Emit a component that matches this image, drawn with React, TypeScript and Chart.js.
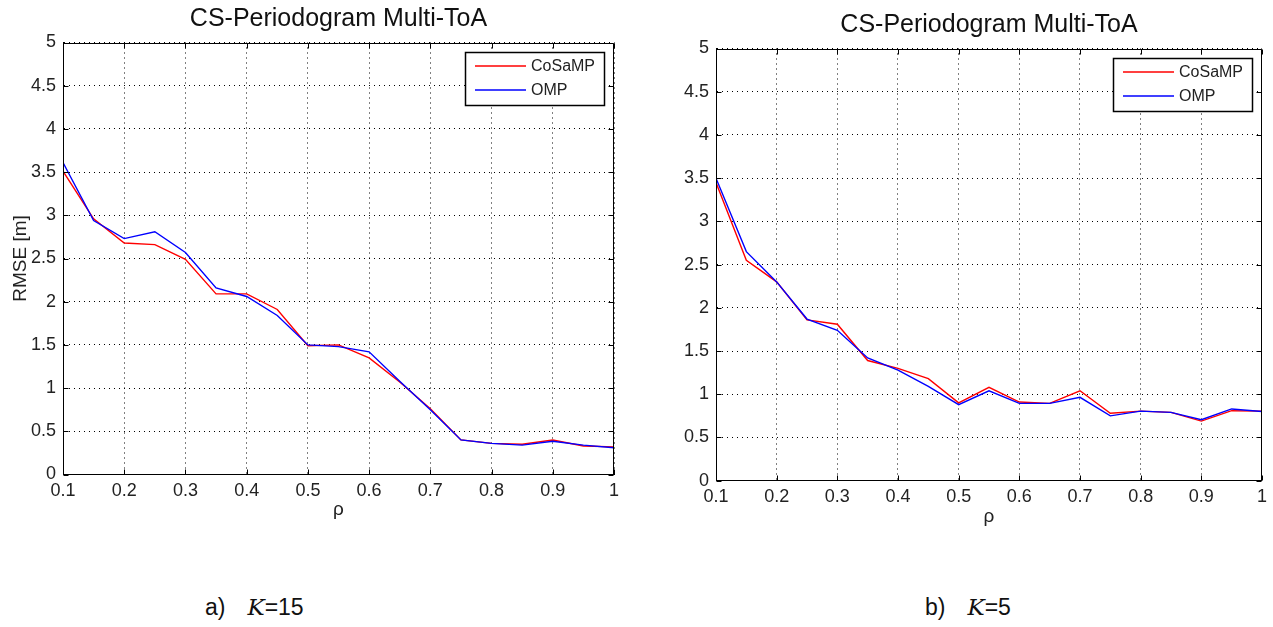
import React, { useEffect, useRef } from 'react';
import { Chart, registerables } from 'chart.js';

Chart.register(...registerables);

// ---------- data ----------
const rho = [0.1, 0.15, 0.2, 0.25, 0.3, 0.35, 0.4, 0.45, 0.5, 0.55, 0.6, 0.65, 0.7, 0.75, 0.8, 0.85, 0.9, 0.95, 1.0];

const cosampK15 = [3.51, 2.96, 2.68, 2.66, 2.49, 2.09, 2.09, 1.91, 1.49, 1.5, 1.35, 1.07, 0.76, 0.4, 0.36, 0.35, 0.4, 0.33, 0.32];
const ompK15 = [3.61, 2.94, 2.73, 2.81, 2.57, 2.16, 2.06, 1.84, 1.5, 1.48, 1.42, 1.08, 0.75, 0.4, 0.36, 0.34, 0.385, 0.34, 0.31];

const cosampK5 = [3.45, 2.55, 2.3, 1.86, 1.81, 1.39, 1.3, 1.18, 0.9, 1.08, 0.91, 0.895, 1.04, 0.78, 0.805, 0.79, 0.69, 0.81, 0.805];
const ompK5 = [3.5, 2.65, 2.3, 1.87, 1.74, 1.42, 1.28, 1.09, 0.88, 1.04, 0.895, 0.895, 0.965, 0.75, 0.805, 0.79, 0.705, 0.83, 0.8];

const xTickValues = [0.1, 0.2, 0.3, 0.4, 0.5, 0.6, 0.7, 0.8, 0.9, 1.0];
const xTickLabels = ['0.1', '0.2', '0.3', '0.4', '0.5', '0.6', '0.7', '0.8', '0.9', '1'];
const yTickValues = [0, 0.5, 1, 1.5, 2, 2.5, 3, 3.5, 4, 4.5, 5];
const yTickLabels = ['0', '0.5', '1', '1.5', '2', '2.5', '3', '3.5', '4', '4.5', '5'];

const seriesNames = ['CoSaMP', 'OMP'];
const seriesColors = ['#ff0000', '#0000ff'];

const chartTitle = 'CS-Periodogram Multi-ToA';
const xAxisTitle = 'ρ';
const yAxisTitle = 'RMSE [m]';

// ---------- styling ----------
const NARROW = "'Liberation Sans Narrow', 'Liberation Sans', Arial, sans-serif";
const SANS = "'Liberation Sans', Arial, sans-serif";

const framePlugin = {
  id: 'matlabFrame',
  afterDraw(chart: any) {
    const { ctx, chartArea } = chart;
    const { left, right, top, bottom } = chartArea;
    const xs = chart.scales.x;
    const ys = chart.scales.y;
    const L = 5;
    ctx.save();
    ctx.strokeStyle = '#000';
    ctx.lineWidth = 1;
    ctx.beginPath();
    const l = Math.round(left) + 0.5, r = Math.round(right) - 0.5;
    const t = Math.round(top) + 0.5, b = Math.round(bottom) - 0.5;
    ctx.rect(l, t, r - l, b - t);
    xs.ticks.forEach((tk: any) => {
      const px = Math.round(xs.getPixelForValue(tk.value)) + 0.5;
      ctx.moveTo(px, b); ctx.lineTo(px, b - L);
      ctx.moveTo(px, t); ctx.lineTo(px, t + L);
    });
    ys.ticks.forEach((tk: any) => {
      const py = Math.round(ys.getPixelForValue(tk.value)) + 0.5;
      ctx.moveTo(l, py); ctx.lineTo(l + L, py);
      ctx.moveTo(r, py); ctx.lineTo(r - L, py);
    });
    ctx.stroke();

    // legend box
    const opts = chart.options.plugins.boxLegend;
    const w = 139, h = 53;
    const x = Math.round(right) - 10 - w;
    const y = Math.round(top) + 9;
    ctx.fillStyle = '#fff';
    ctx.fillRect(x, y, w, h);
    ctx.strokeStyle = '#000';
    ctx.lineWidth = 1.5;
    ctx.strokeRect(x + 0.5, y + 0.5, w, h);
    opts.names.forEach((name: string, i: number) => {
      const ry = y + 14 + i * 24;
      ctx.strokeStyle = opts.colors[i];
      ctx.lineWidth = 1.3;
      ctx.beginPath();
      ctx.moveTo(x + 10, ry);
      ctx.lineTo(x + 61, ry);
      ctx.stroke();
      ctx.fillStyle = '#222';
      ctx.font = `16px ${SANS}`;
      ctx.textBaseline = 'middle';
      ctx.textAlign = 'left';
      ctx.fillText(name, x + 66, ry + 1);
    });
    ctx.restore();
  },
};

type Panel = {
  cosamp: number[];
  omp: number[];
  width: number;
  height: number;
  yAxisWidth: number;
  padRight: number;
  padBottom: number;
  titleTop: number;
  titleBottom: number;
  showYTitle: boolean;
};

function ChartPanel({ p }: { p: Panel }) {
  const ref = useRef<HTMLCanvasElement>(null);
  useEffect(() => {
    if (!ref.current) return;
    const series = [p.cosamp, p.omp];
    const chart = new Chart(ref.current, {
      type: 'line',
      data: {
        datasets: series.map((vals, i) => ({
          label: seriesNames[i],
          data: rho.map((r, j) => ({ x: r, y: vals[j] })),
          borderColor: seriesColors[i],
          borderWidth: 1.4,
          pointRadius: 0,
          tension: 0,
          fill: false,
          order: i === 0 ? 2 : 1,
        })),
      },
      options: {
        responsive: false,
        animation: false,
        events: [],
        layout: { padding: { left: 0, right: p.padRight, top: 0, bottom: p.padBottom } },
        plugins: {
          legend: { display: false },
          tooltip: { enabled: false },
          title: {
            display: true,
            text: chartTitle,
            fullSize: false,
            color: '#111',
            font: { family: SANS, size: 25, weight: 'normal', lineHeight: 1.1 },
            padding: { top: p.titleTop, bottom: p.titleBottom },
          },
          boxLegend: { names: seriesNames, colors: seriesColors },
        } as any,
        scales: {
          x: {
            type: 'linear',
            min: 0.1,
            max: 1,
            afterBuildTicks: (s: any) => {
              s.ticks = xTickValues.map((v) => ({ value: v }));
            },
            afterFit: (s: any) => {
              s.height = 50;
            },
            ticks: {
              autoSkip: false,
              maxRotation: 0,
              padding: 6,
              color: '#222',
              font: { family: NARROW, size: 18 },
              callback: (v: any) => {
                const i = xTickValues.findIndex((t) => Math.abs(t - v) < 1e-9);
                return i >= 0 ? xTickLabels[i] : '';
              },
            },
            grid: { color: '#000', lineWidth: 1, drawTicks: false },
            border: { display: true, color: '#000', dash: [1, 4] },
            title: {
              display: true,
              text: xAxisTitle,
              color: '#222',
              font: { family: NARROW, size: 19 },
              padding: { top: 0, bottom: 3 },
            },
          },
          y: {
            type: 'linear',
            min: 0,
            max: 5,
            afterBuildTicks: (s: any) => {
              s.ticks = yTickValues.map((v) => ({ value: v }));
            },
            afterFit: (s: any) => {
              s.width = p.yAxisWidth;
            },
            ticks: {
              autoSkip: false,
              padding: 7,
              color: '#222',
              font: { family: NARROW, size: 18 },
              callback: (v: any) => {
                const i = yTickValues.findIndex((t) => Math.abs(t - v) < 1e-9);
                return i >= 0 ? yTickLabels[i] : '';
              },
            },
            grid: { color: '#000', lineWidth: 1, drawTicks: false },
            border: { display: true, color: '#000', dash: [1, 4] },
            title: {
              display: p.showYTitle,
              text: yAxisTitle,
              color: '#222',
              font: { family: NARROW, size: 19 },
              padding: { top: 9, bottom: 0 },
            },
          },
        },
      },
      plugins: [framePlugin],
    });
    return () => chart.destroy();
  }, [p]);
  return <canvas ref={ref} width={p.width} height={p.height} style={{ display: 'block', width: p.width, height: p.height }} />;
}

const leftPanel: Panel = {
  cosamp: cosampK15,
  omp: ompK15,
  width: 640,
  height: 540,
  yAxisWidth: 63,
  padRight: 26,
  padBottom: 15.5,
  titleTop: 5,
  titleBottom: 10,
  showYTitle: true,
};

const rightPanel: Panel = {
  cosamp: cosampK5,
  omp: ompK5,
  width: 633,
  height: 545,
  yAxisWidth: 76,
  padRight: 7,
  padBottom: 14.3,
  titleTop: 11,
  titleBottom: 10,
  showYTitle: false,
};

const captionStyle: React.CSSProperties = {
  position: 'absolute',
  top: 592,
  fontFamily: SANS,
  fontSize: 23,
  color: '#111',
  whiteSpace: 'pre',
  lineHeight: '30px',
};
const kStyle: React.CSSProperties = {
  fontFamily: "'DejaVu Serif', 'Liberation Serif', serif",
  fontStyle: 'italic',
  marginLeft: 22,
};

export default function App() {
  return (
    <div style={{ position: 'absolute', left: 0, top: 0, width: 1273, height: 627, background: '#fff', overflow: 'hidden' }}>
      <div style={{ position: 'absolute', left: 0, top: 0 }}>
        <ChartPanel p={leftPanel} />
      </div>
      <div style={{ position: 'absolute', left: 640, top: 0 }}>
        <ChartPanel p={rightPanel} />
      </div>
      <div style={{ ...captionStyle, left: 205 }}>
        a)<span style={kStyle}>K</span>=15
      </div>
      <div style={{ ...captionStyle, left: 925 }}>
        b)<span style={kStyle}>K</span>=5
      </div>
    </div>
  );
}
